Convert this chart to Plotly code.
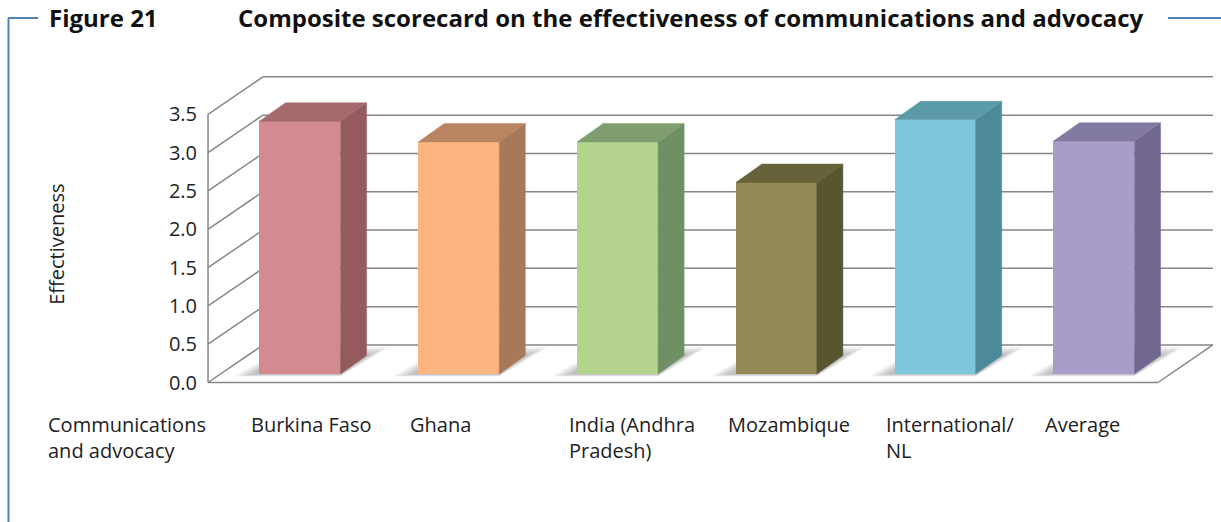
import plotly.graph_objects as go

# ---- data -------------------------------------------------------------
categories = ["Burkina Faso", "Ghana", "India (Andhra<br>Pradesh)", "Mozambique",
              "International/<br>NL", "Average"]
scores = [3.3, 3.03, 3.03, 2.5, 3.32, 3.04]
tick_values = [0.0, 0.5, 1.0, 1.5, 2.0, 2.5, 3.0, 3.5]
tick_labels = ["0.0", "0.5", "1.0", "1.5", "2.0", "2.5", "3.0", "3.5"]
row_label = "Communications<br>and advocacy"
y_title = "Effectiveness"
fig_label = "Figure 21"
fig_title = "Composite scorecard on the effectiveness of communications and advocacy"

front_colors = ["#D48B8F", "#FCB57F", "#B4D48E", "#948A55", "#7CC7D9", "#A99CC9"]
side_colors = ["#955A5E", "#A7785A", "#6E9064", "#585531", "#4C8A99", "#71678F"]
top_colors = ["#A46A6E", "#B98461", "#7E9E70", "#66633A", "#5B9AA8", "#827AA1"]

# ---- oblique 3-D projection settings (in axis units) -------------------
W, H = 1221, 522
X_RANGE = [-1.889, 5.800]
Y_RANGE = [-1.821, 4.993]
FLOOR_L, FLOOR_R = -0.579, 5.403     # front edge of the floor
WALL_DX, WALL_DY = 0.346, 0.49       # depth of walls / floor
PLANE_DY = 0.111                     # bars sit a little behind the front edge
BAR_W = 0.51
BAR_DX, BAR_DY = 0.164, 0.24         # bar thickness
GRID_COLOR = "#868686"
FONT = "Open Sans"
TEXT_COLOR = "#222222"

idx = list(range(len(categories)))
fig = go.Figure()


def wall_line(x0, y0, x1, y1):
    fig.add_shape(type="line", xref="x", yref="y", x0=x0, y0=y0, x1=x1, y1=y1,
                  layer="below", line=dict(color=GRID_COLOR, width=1.5))


# walls and floor outline, drawn beneath the bars
for v in tick_values:
    wall_line(FLOOR_L, v, FLOOR_L + WALL_DX, v + WALL_DY)               # left wall
    wall_line(FLOOR_L + WALL_DX, v + WALL_DY, FLOOR_R + WALL_DX, v + WALL_DY)  # back wall
wall_line(FLOOR_L, 0, FLOOR_L, tick_values[-1])
wall_line(FLOOR_L, 0, FLOOR_R, 0)
wall_line(FLOOR_R, 0, FLOOR_R + WALL_DX, WALL_DY)

# soft shadows on the floor around each bar footprint
for i in idx:
    xl, xr = i - BAR_W / 2, i + BAR_W / 2
    b = PLANE_DY
    for k in range(1, 6):
        ex, ey = 0.028 * k, 0.022 * k
        pts = [(xl - ex - 0.02, b - ey * 0.3), (xr, b - ey * 0.3),
               (xr + BAR_DX + ex, b + BAR_DY + ey), (xl + BAR_DX, b + BAR_DY + ey)]
        path = "M " + " L ".join(f"{px},{py}" for px, py in pts) + " Z"
        fig.add_shape(type="path", xref="x", yref="y", path=path, layer="below",
                      fillcolor="rgba(60,60,70,0.07)", line=dict(width=0))

# bar fronts
fig.add_trace(go.Bar(x=idx, y=scores, base=PLANE_DY, width=BAR_W,
                     marker=dict(color=front_colors, line=dict(width=0)),
                     showlegend=False, hoverinfo="skip"))

# bar side and top faces
for i, v in enumerate(scores):
    xl, xr = i - BAR_W / 2, i + BAR_W / 2
    b, t = PLANE_DY, PLANE_DY + v
    fig.add_trace(go.Scatter(
        x=[xr, xr + BAR_DX, xr + BAR_DX, xr, xr],
        y=[b, b + BAR_DY, t + BAR_DY, t, b],
        fill="toself", fillcolor=side_colors[i], mode="lines",
        line=dict(color=side_colors[i], width=0.5),
        hoverinfo="skip", showlegend=False))
    fig.add_trace(go.Scatter(
        x=[xl, xl + BAR_DX, xr + BAR_DX, xr, xl],
        y=[t, t + BAR_DY, t + BAR_DY, t, t],
        fill="toself", fillcolor=top_colors[i], mode="lines",
        line=dict(color=top_colors[i], width=0.5),
        hoverinfo="skip", showlegend=False))

# category labels under the chart
label_y = -0.35
for i, c in enumerate(categories):
    fig.add_annotation(x=i - 0.32, y=label_y, text=c, showarrow=False,
                       xanchor="left", yanchor="top", align="left",
                       font=dict(family=FONT, size=20, color=TEXT_COLOR))
fig.add_annotation(x=-1.6, y=label_y, text=row_label, showarrow=False,
                   xanchor="left", yanchor="top", align="left",
                   font=dict(family=FONT, size=20, color=TEXT_COLOR))

# y-axis title
fig.add_annotation(x=-1.535, y=1.8, text=y_title, textangle=-90, showarrow=False,
                   xanchor="center", yanchor="middle",
                   font=dict(family=FONT, size=20, color=TEXT_COLOR))

# heading
fig.add_annotation(xref="paper", yref="paper", x=47 / W, y=1 - 18 / H,
                   text="<b>" + fig_label + "</b>", showarrow=False,
                   xanchor="left", yanchor="middle",
                   font=dict(family=FONT, size=24, color="#111111"))
fig.add_annotation(xref="paper", yref="paper", x=236 / W, y=1 - 18 / H,
                   text="<b>" + fig_title + "</b>", showarrow=False,
                   xanchor="left", yanchor="middle",
                   font=dict(family=FONT, size=24, color="#111111"))

# blue frame
frame = dict(type="line", xref="paper", yref="paper",
             line=dict(color="#4F81BD", width=2))
fig.add_shape(**frame, x0=8.5 / W, x1=8.5 / W, y0=1 - 18 / H, y1=0)
fig.add_shape(**frame, x0=8 / W, x1=38 / W, y0=1 - 18 / H, y1=1 - 18 / H)
fig.add_shape(**frame, x0=1168 / W, x1=1, y0=1 - 18 / H, y1=1 - 18 / H)

y_pos = (FLOOR_L - X_RANGE[0]) / (X_RANGE[1] - X_RANGE[0])
fig.update_layout(
    width=W, height=H,
    margin=dict(l=0, r=0, t=0, b=0),
    paper_bgcolor="white", plot_bgcolor="white",
    xaxis=dict(range=X_RANGE, visible=False, fixedrange=True),
    yaxis=dict(range=Y_RANGE, anchor="free", position=y_pos,
               tickvals=tick_values, ticktext=tick_labels,
               showgrid=False, zeroline=False, showline=False, ticks="",
               ticklabelstandoff=11,
               tickfont=dict(family=FONT, size=20, color=TEXT_COLOR),
               fixedrange=True),
    bargap=0,
)

fig.write_html("out.html")
